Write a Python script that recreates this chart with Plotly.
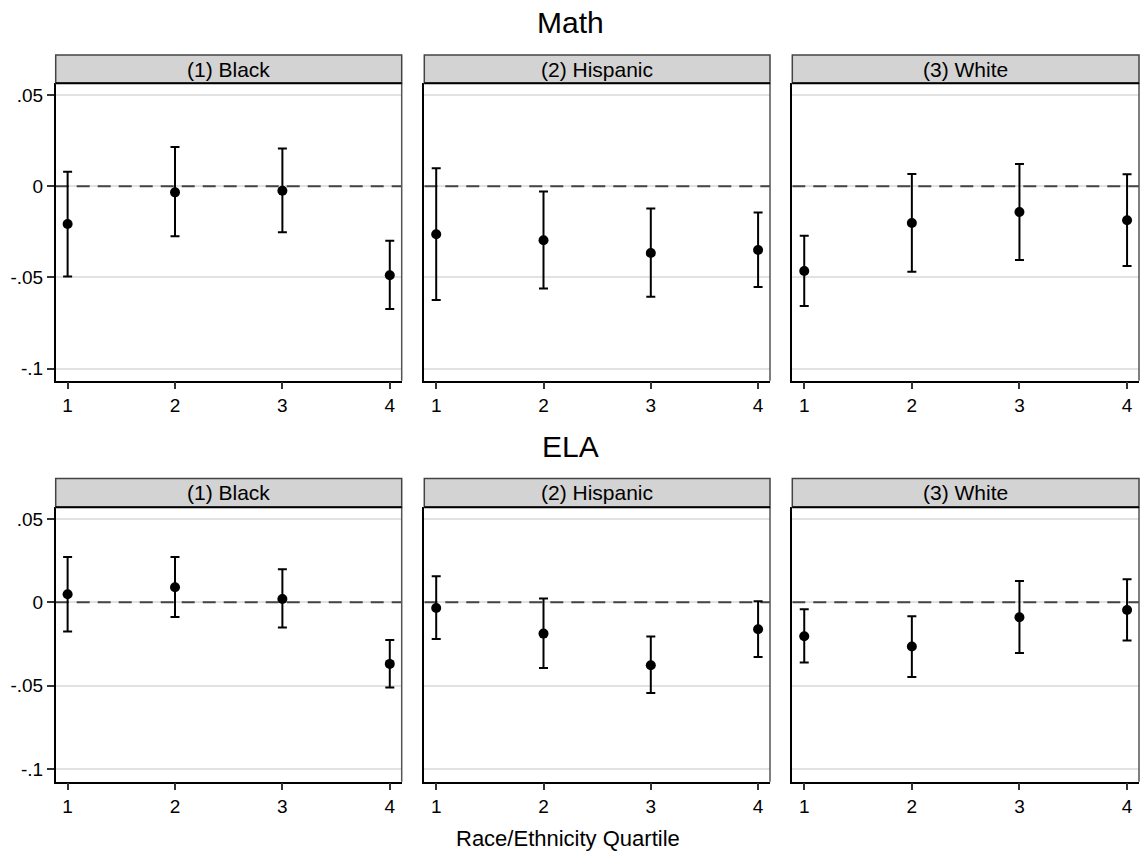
import plotly.graph_objects as go

quartiles = [1, 2, 3, 4]
groups = ["(1) Black", "(2) Hispanic", "(3) White"]
subjects = ["Math", "ELA"]
ytick_vals = [0.05, 0, -0.05, -0.1]
ytick_text = [".05", "0", "-.05", "-.1"]
xtick_text = ["1", "2", "3", "4"]

# Math estimates and 95% CI
math_black_est = [-0.0207, -0.0033, -0.0024, -0.0488]
math_black_lo = [-0.0494, -0.0274, -0.0252, -0.0673]
math_black_hi = [0.0080, 0.0216, 0.0207, -0.0298]

math_hisp_est = [-0.0263, -0.0296, -0.0366, -0.0349]
math_hisp_lo = [-0.0623, -0.0561, -0.0605, -0.0552]
math_hisp_hi = [0.0099, -0.0029, -0.0122, -0.0144]

math_white_est = [-0.0464, -0.0201, -0.0141, -0.0186]
math_white_lo = [-0.0656, -0.0468, -0.0404, -0.0437]
math_white_hi = [-0.0271, 0.0068, 0.0122, 0.0066]

# ELA estimates and 95% CI
ela_black_est = [0.0048, 0.0090, 0.0020, -0.0370]
ela_black_lo = [-0.0176, -0.0088, -0.0152, -0.0511]
ela_black_hi = [0.0272, 0.0272, 0.0198, -0.0226]

ela_hisp_est = [-0.0034, -0.0188, -0.0378, -0.0162]
ela_hisp_lo = [-0.0220, -0.0394, -0.0545, -0.0328]
ela_hisp_hi = [0.0156, 0.0022, -0.0206, 0.0006]

ela_white_est = [-0.0204, -0.0266, -0.0090, -0.0046]
ela_white_lo = [-0.0362, -0.0449, -0.0304, -0.0230]
ela_white_hi = [-0.0042, -0.0084, 0.0128, 0.0138]

panels = [
    [(math_black_est, math_black_lo, math_black_hi),
     (math_hisp_est, math_hisp_lo, math_hisp_hi),
     (math_white_est, math_white_lo, math_white_hi)],
    [(ela_black_est, ela_black_lo, ela_black_hi),
     (ela_hisp_est, ela_hisp_lo, ela_hisp_hi),
     (ela_white_est, ela_white_lo, ela_white_hi)],
]

W, H = 1140, 855
FONT = "Liberation Sans, Arial, sans-serif"

# layout in page pixels
col_px = [(55.7, 401.7), (424.3, 770.0), (792.3, 1139.0)]
row_px = [(83.3, 380.7), (507.3, 781.7)]          # plot area top/bottom
strip_px = [(55.0, 83.3), (478.5, 507.3)]
title_y_px = [22, 447]
row_yrange = [[-0.1066, 0.0565], [-0.1077, 0.0570]]
xrange = [0.889, 4.111]


def px2x(p):
    return p / W


def px2y(p):
    return 1 - p / H


fig = go.Figure()
layout_axes = {}
shapes = []
annotations = []

idx = 0
for r in range(2):
    for c in range(3):
        idx += 1
        xa = "x" if idx == 1 else f"x{idx}"
        ya = "y" if idx == 1 else f"y{idx}"
        est, lo, hi = panels[r][c]
        # dashed zero reference line
        fig.add_trace(go.Scatter(
            x=xrange, y=[0, 0], mode="lines",
            line=dict(color="#444444", width=2, dash="13px,8px"),
            xaxis=xa, yaxis=ya, showlegend=False, hoverinfo="skip",
        ))
        fig.add_trace(go.Scatter(
            x=quartiles, y=est, mode="markers",
            marker=dict(color="black", size=10, symbol="circle"),
            error_y=dict(type="data", symmetric=False,
                         array=[h - e for h, e in zip(hi, est)],
                         arrayminus=[e - l for e, l in zip(est, lo)],
                         color="black", thickness=2, width=4.5),
            xaxis=xa, yaxis=ya, showlegend=False, cliponaxis=False,
        ))
        xkey = "xaxis" if idx == 1 else f"xaxis{idx}"
        ykey = "yaxis" if idx == 1 else f"yaxis{idx}"
        layout_axes[xkey] = dict(
            domain=[px2x(col_px[c][0]), px2x(col_px[c][1])],
            anchor=ya, range=xrange, tickvals=quartiles, ticktext=xtick_text,
            ticks="outside", ticklen=7, tickwidth=1.5, tickcolor="#333",
            showline=True, linecolor="black", linewidth=1.5,
            showgrid=False, zeroline=False,
            tickfont=dict(size=19, color="black", family=FONT),
        )
        layout_axes[ykey] = dict(
            domain=[px2y(row_px[r][1]), px2y(row_px[r][0])],
            anchor=xa, range=row_yrange[r], tickvals=ytick_vals,
            ticktext=ytick_text,
            ticks="outside" if c == 0 else "", ticklen=7, tickwidth=1.5,
            tickcolor="#333", showticklabels=(c == 0),
            showline=True, linecolor="black", linewidth=1.5,
            showgrid=True, gridcolor="#e2e2e2", gridwidth=1.5,
            zeroline=False,
            tickfont=dict(size=19, color="black", family=FONT),
        )
        # gray right border
        shapes.append(dict(type="line", xref="paper", yref="paper",
                           x0=px2x(col_px[c][1]), x1=px2x(col_px[c][1]),
                           y0=px2y(row_px[r][1]), y1=px2y(row_px[r][0]),
                           layer="above",
                           line=dict(color="#555555", width=1.5)))
        # strip header
        shapes.append(dict(type="rect", xref="paper", yref="paper",
                           x0=px2x(col_px[c][0]), x1=px2x(col_px[c][1]),
                           y0=px2y(strip_px[r][1]), y1=px2y(strip_px[r][0]),
                           fillcolor="#d3d3d3", line=dict(color="#444444", width=1.5),
                           layer="above"))
        shapes.append(dict(type="line", xref="paper", yref="paper",
                           x0=px2x(col_px[c][0]), x1=px2x(col_px[c][1]),
                           y0=px2y(strip_px[r][1]), y1=px2y(strip_px[r][1]),
                           line=dict(color="black", width=2), layer="above"))
        annotations.append(dict(
            text=groups[c], xref="paper", yref="paper",
            x=px2x((col_px[c][0] + col_px[c][1]) / 2),
            y=px2y((strip_px[r][0] + strip_px[r][1]) / 2),
            xanchor="center", yanchor="middle", showarrow=False,
            font=dict(size=21, color="black", family=FONT)))
    annotations.append(dict(
        text=subjects[r], xref="paper", yref="paper", x=px2x(570),
        y=px2y(title_y_px[r]), xanchor="center", yanchor="middle",
        showarrow=False, font=dict(size=30, color="black", family=FONT)))

annotations.append(dict(
    text="Race/Ethnicity Quartile", xref="paper", yref="paper",
    x=px2x(568), y=px2y(838), xanchor="center", yanchor="middle",
    showarrow=False, font=dict(size=22, color="black", family=FONT)))

fig.update_layout(
    width=W, height=H,
    margin=dict(l=0, r=0, t=0, b=0),
    paper_bgcolor="white", plot_bgcolor="white",
    font=dict(family=FONT, color="black"),
    shapes=shapes, annotations=annotations,
    **layout_axes,
)

# remove the default 8px page margin so the figure fills the window exactly
fig.write_html(
    "out.html",
    config={"displayModeBar": False},
    post_script="document.body.style.margin='0';document.body.style.overflow='hidden';",
)
